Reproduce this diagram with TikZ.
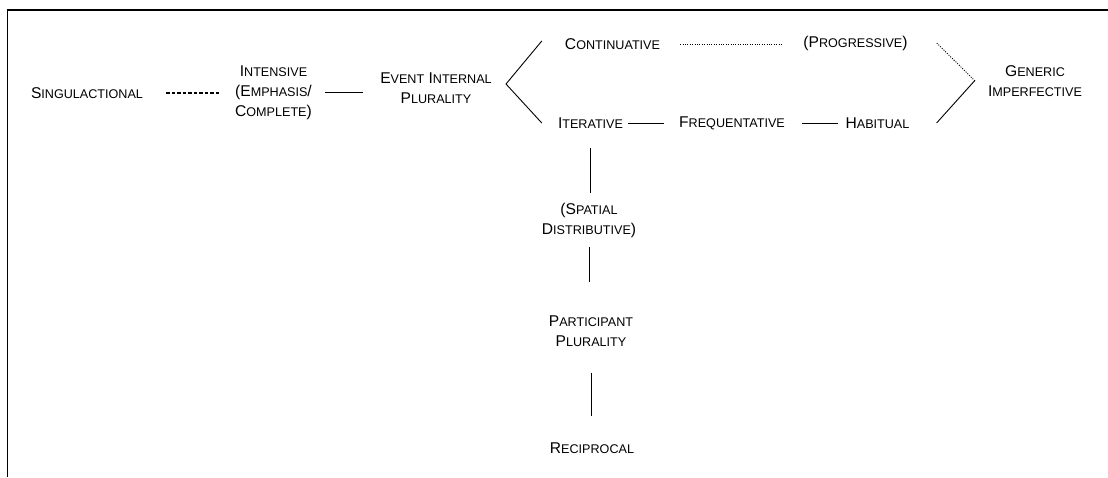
\documentclass[tikz,border=0pt]{standalone}
\usepackage{fontspec}
\setmainfont{Liberation Sans}
\newcommand{\smf}{\fontsize{12.6}{20}\selectfont}
\newcommand{\scw}[2]{#1{\smf #2}}
\begin{document}
\begin{tikzpicture}[x=1pt,y=-1pt,
  lbl/.style={inner sep=0pt,align=center,font=\fontsize{15.6}{20}\selectfont},
  conn/.style={line width=0.9pt},
  dashconn/.style={line width=1.1pt,dash pattern=on 3.5pt off 2pt},
  dotconn/.style={line width=0.9pt,dash pattern=on 1pt off 1.4pt}]
\useasboundingbox (0,0) rectangle (1108,477);
\fill[white] (0,0) rectangle (1108,477);
\draw[line width=1.9pt] (7.5,477) -- (7.5,10) -- (1108,10);

\node[lbl] (sing) at (87,93) {\scw{S}{INGULACTIONAL}};
\node[lbl] (inten) at (273.5,92.5) {\scw{I}{NTENSIVE}\\(\scw{E}{MPHASIS}/\\\scw{C}{OMPLETE})};
\node[lbl] (eip) at (436,88) {\scw{E}{VENT} \scw{I}{NTERNAL}\\\scw{P}{LURALITY}};
\node[lbl] (cont) at (612.5,44) {\scw{C}{ONTINUATIVE}};
\node[lbl] (prog) at (855.5,43) {(\scw{P}{ROGRESSIVE})};
\node[lbl] (gen) at (1035,81.5) {\scw{G}{ENERIC}\\\scw{I}{MPERFECTIVE}};
\node[lbl] (iter) at (590.5,123) {\scw{I}{TERATIVE}};
\node[lbl] (freq) at (732,123) {\scw{F}{REQUENTATIVE}};
\node[lbl] (hab) at (877.5,123) {\scw{H}{ABITUAL}};
\node[lbl] (spat) at (589,220) {(\scw{S}{PATIAL}\\\scw{D}{ISTRIBUTIVE})};
\node[lbl] (part) at (591,331) {\scw{P}{ARTICIPANT}\\\scw{P}{LURALITY}};
\node[lbl] (rec) at (592,448) {\scw{R}{ECIPROCAL}};

\coordinate (vapex) at (506,84);
\coordinate (gapex) at (975,81);

\draw[dashconn,shorten <=23pt,shorten >=14pt] (sing.east) -- (sing.east -| inten.west);
\draw[conn,shorten <=13pt,shorten >=17pt] (inten.east) -- (inten.east -| eip.west);
\draw[conn] ([xshift=-23pt,yshift=3pt]cont.west) -- (vapex) -- ([xshift=-16pt]iter.west);
\draw[dotconn,shorten <=20pt,shorten >=20pt] (cont.east) -- (cont.east -| prog.west);
\draw[dotconn] ([xshift=29pt]prog.east) -- (gapex);
\draw[conn] ([xshift=-13pt,yshift=1pt]gen.west) -- ([xshift=27pt]hab.east);
\draw[conn,shorten <=5pt,shorten >=15pt] (iter.east) -- (freq.west);
\draw[conn,shorten <=17pt,shorten >=7pt] (freq.east) -- (hab.west);
\draw[conn,shorten <=19pt,shorten >=10pt] (iter.south) -- (iter.south |- spat.north);
\draw[conn,shorten <=10pt,shorten >=33pt] (spat.south) -- (spat.south |- part.north);
\draw[conn,shorten <=26pt,shorten >=26pt] (part.south) -- (part.south |- rec.north);
\end{tikzpicture}
\end{document}
